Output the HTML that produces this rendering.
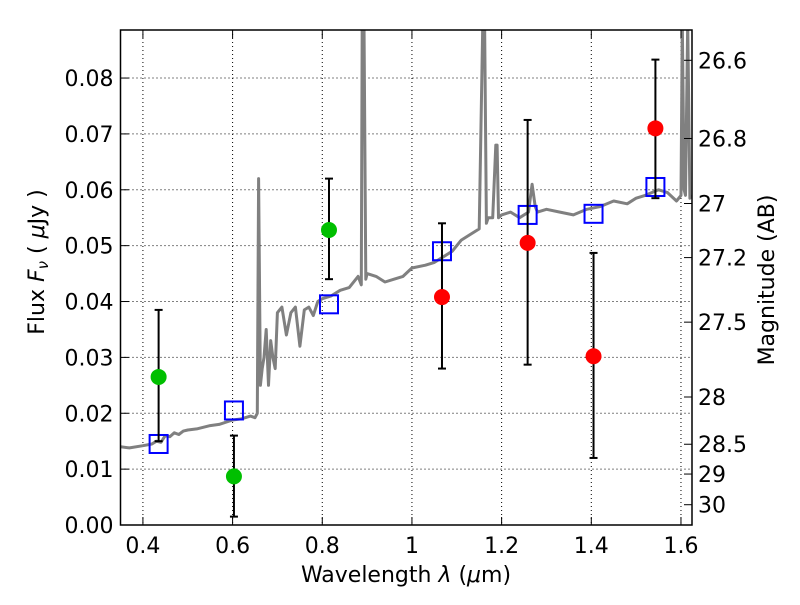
<!DOCTYPE html>
<html><head><meta charset="utf-8"><style>
body{margin:0;background:#fff;}
svg text{font-family:"DejaVu Sans","Liberation Sans",sans-serif;}
</style></head><body>
<svg id="chart" width="800" height="600" viewBox="0 0 800 600" xmlns="http://www.w3.org/2000/svg"></svg>
<script>
const specWave=[0.35,0.37,0.40,0.42,0.43,0.44,0.45,0.46,0.47,0.48,0.49,0.50,0.52,0.55,0.57,0.60,0.62,0.64,0.65,0.655,0.658,0.662,0.666,0.67,0.675,0.68,0.685,0.69,0.695,0.70,0.71,0.72,0.73,0.74,0.75,0.76,0.77,0.78,0.79,0.80,0.82,0.84,0.86,0.88,0.887,0.889,0.893,0.897,0.90,0.92,0.94,0.96,0.98,1.00,1.03,1.05,1.07,1.09,1.11,1.13,1.15,1.158,1.162,1.166,1.17,1.18,1.187,1.19,1.193,1.20,1.22,1.24,1.26,1.268,1.275,1.28,1.30,1.33,1.36,1.39,1.42,1.45,1.48,1.50,1.52,1.55,1.57,1.59,1.60,1.603,1.607,1.61,1.615,1.62,1.625];
const specFlux=[0.0140,0.0138,0.0142,0.0145,0.0150,0.0148,0.0160,0.0158,0.0165,0.0162,0.0168,0.0170,0.0172,0.0178,0.0180,0.0188,0.0190,0.0195,0.0192,0.0200,0.0620,0.0250,0.0280,0.0300,0.0350,0.0250,0.0330,0.0300,0.0280,0.0380,0.0390,0.0340,0.0380,0.0390,0.0320,0.0385,0.0390,0.0375,0.0400,0.0405,0.0410,0.0420,0.0425,0.0445,0.0430,0.0900,0.0900,0.0440,0.0450,0.0445,0.0435,0.0440,0.0445,0.0460,0.0465,0.0470,0.0480,0.0490,0.0510,0.0520,0.0530,0.0900,0.0900,0.0540,0.0550,0.0550,0.0680,0.0680,0.0550,0.0555,0.0560,0.0550,0.0560,0.0610,0.0570,0.0560,0.0565,0.0560,0.0555,0.0565,0.0570,0.0580,0.0575,0.0585,0.0590,0.0600,0.0595,0.0580,0.0590,0.0900,0.0600,0.0590,0.0900,0.0585,0.0590];
const bandWave=[0.435,0.603,0.815,1.067,1.258,1.405,1.543];
const bandFlux=[0.0145,0.0205,0.0395,0.049,0.0555,0.0557,0.0605];
const greenWave=[0.435,0.603,0.815];
const greenFlux=[0.0265,0.0087,0.0528];
const greenLo=[0.0150,0.0015,0.0440];
const greenHi=[0.0385,0.0160,0.0620];
const redWave=[1.067,1.258,1.405,1.543];
const redFlux=[0.0408,0.0505,0.0302,0.0710];
const redLo=[0.0280,0.0287,0.0120,0.0585];
const redHi=[0.0540,0.0725,0.0487,0.0833];
const xTicks=[0.4,0.6,0.8,1.0,1.2,1.4,1.6];
const xTickLabels=["0.4","0.6","0.8","1","1.2","1.4","1.6"];
const yTicks=[0,0.01,0.02,0.03,0.04,0.05,0.06,0.07,0.08];
const yTickLabels=["0.00","0.01","0.02","0.03","0.04","0.05","0.06","0.07","0.08"];
const magTicks=[26.6,26.8,27,27.2,27.5,28,28.5,29,30];
const magTickLabels=["26.6","26.8","27","27.2","27.5","28","28.5","29","30"];

const L=120.5,R=692,T=30,B=525;
const X0=0.35,X1=1.6246,Y0=0,Y1=0.0886;
const sx=v=>L+(v-X0)/(X1-X0)*(R-L);
const sy=v=>B-(v-Y0)/(Y1-Y0)*(B-T);
const magToFlux=m=>Math.pow(10,(23.9-m)/2.5);
const svg=document.getElementById('chart');
const NS='http://www.w3.org/2000/svg';
function mk(tag,attrs,parent){const e=document.createElementNS(NS,tag);for(const k in attrs)e.setAttribute(k,attrs[k]);(parent||svg).appendChild(e);return e;}

const defs=mk('defs',{});
const cp=mk('clipPath',{id:'clip'},defs);
mk('rect',{x:L,y:T,width:R-L,height:B-T},cp);

const grid=mk('g',{});


xTicks.forEach(v=>mk('line',{x1:sx(v),x2:sx(v),y1:T,y2:B,stroke:'#000','stroke-width':1,'stroke-dasharray':'1,3'},grid));
yTicks.forEach(v=>mk('line',{x1:L,x2:R,y1:sy(v),y2:sy(v),stroke:'#000','stroke-width':1,'stroke-dasharray':'1,3'},grid));

const plot=mk('g',{'clip-path':'url(#clip)'});
const sp=mk('path',{d:specWave.map((w,i)=>(i?'L':'M')+sx(w).toFixed(1)+','+sy(specFlux[i]).toFixed(1)).join(''),fill:'none',stroke:'#808080','stroke-width':3,'stroke-linejoin':'round'},plot);



function errs(ws,fs,lo,hi,color,name){
  const g=mk('g',{},plot);
  
  
  ws.forEach((w,i)=>{
    const x=sx(w);
    mk('line',{x1:x,x2:x,y1:sy(lo[i]),y2:sy(hi[i]),stroke:'#000','stroke-width':2},g);
    mk('line',{x1:x-4,x2:x+4,y1:sy(lo[i]),y2:sy(lo[i]),stroke:'#000','stroke-width':2},g);
    mk('line',{x1:x-4,x2:x+4,y1:sy(hi[i]),y2:sy(hi[i]),stroke:'#000','stroke-width':2},g);
    const c=mk('circle',{cx:x,cy:sy(fs[i]),r:8,fill:color},g);
    
    
  });
}
const sq=mk('g',{},plot);


bandWave.forEach((w,i)=>{const r=mk('rect',{x:sx(w)-9,y:sy(bandFlux[i])-9,width:18,height:18,fill:'none',stroke:'#0000ff','stroke-width':2},sq);
  
  });
errs(greenWave,greenFlux,greenLo,greenHi,'#00bf00','hst-photometry');
errs(redWave,redFlux,redLo,redHi,'#ff0000','jwst-photometry');

mk('rect',{x:L,y:T,width:R-L,height:B-T,fill:'none',stroke:'#000','stroke-width':1.5});

const ax=mk('g',{});


xTicks.forEach((v,i)=>{const x=sx(v);
  mk('line',{x1:x,x2:x,y1:B,y2:B-8,stroke:'#000'},ax);mk('line',{x1:x,x2:x,y1:T,y2:T+8,stroke:'#000'},ax);
  const t=mk('text',{x:x,y:B+28,'font-size':22,'text-anchor':'middle'},ax);t.textContent=xTickLabels[i];});
yTicks.forEach((v,i)=>{const y=sy(v);
  mk('line',{x1:L,x2:L+8,y1:y,y2:y,stroke:'#000'},ax);
  const t=mk('text',{x:L-7,y:y+8,'font-size':22,'text-anchor':'end'},ax);t.textContent=yTickLabels[i];});
magTicks.forEach((m,i)=>{const y=sy(magToFlux(m));
  mk('line',{x1:R,x2:R-8,y1:y,y2:y,stroke:'#000'},ax);
  const t=mk('text',{x:R+6,y:y+8,'font-size':22},ax);t.textContent=magTickLabels[i];});
</script>
<svg style="position:absolute;left:0;top:0" width="800" height="600">
<text x="406" y="582" font-size="22" text-anchor="middle" font-family="DejaVu Sans, sans-serif">Wavelength  <tspan font-style="italic">λ</tspan> (<tspan font-style="italic">μ</tspan>m)</text>
<text transform="translate(44,262) rotate(-90)" font-size="22" text-anchor="middle" font-family="DejaVu Sans, sans-serif">Flux  <tspan font-style="italic">F</tspan><tspan font-style="italic" font-size="15" dy="4">ν</tspan><tspan dy="-4">  ( </tspan><tspan font-style="italic">μ</tspan>Jy )</text>
<text transform="translate(774,280) rotate(-90)" font-size="22" text-anchor="middle" font-family="DejaVu Sans, sans-serif">Magnitude (AB)</text>
</svg>
</body></html>
